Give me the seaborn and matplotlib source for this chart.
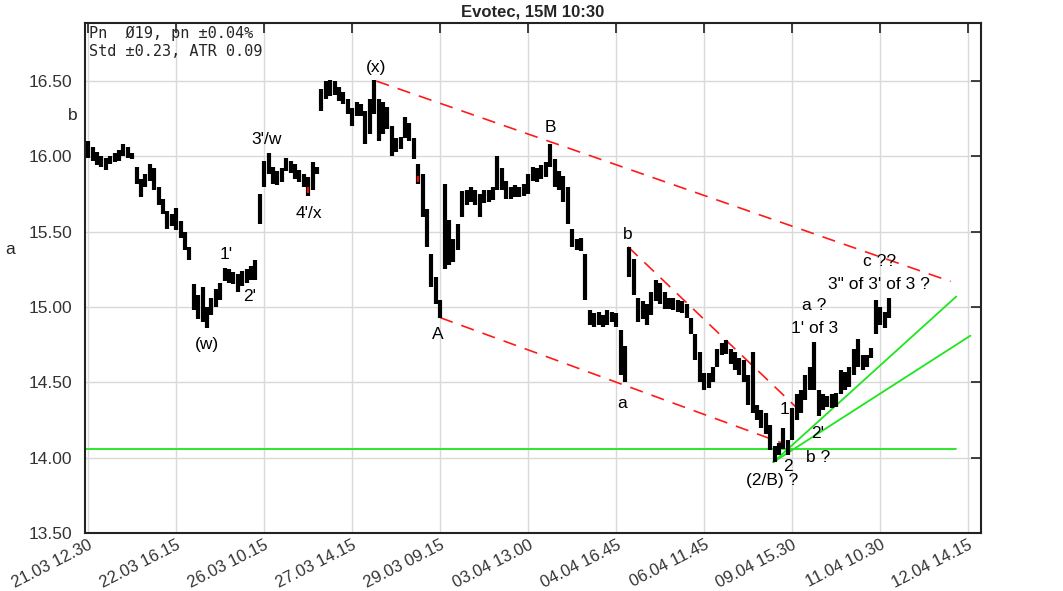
import seaborn as sns
import matplotlib.pyplot as plt
import pandas as pd

# price bars (index based, 15M)
lows = [15.99, 15.97, 15.94, 15.93, 15.91, 15.95, 15.96, 15.97, 16.00, 15.99,
        15.98, 15.82, 15.73, 15.80, 15.84, 15.78, 15.68, 15.62, 15.52, 15.54,
        15.51, 15.46, 15.38, 15.31, 14.98, 14.92, 14.90, 14.86, 14.95, 15.00,
        15.05, 15.17, 15.16, 15.15, 15.10, 15.14, 15.16, 15.18, 15.18, 15.55,
        15.80, 15.88, 15.82, 15.81, 15.83, 15.90, 15.89, 15.85, 15.83, 15.80,
        15.74, 15.78, 15.88, 16.30, 16.38, 16.40, 16.41, 16.37, 16.35, 16.28,
        16.20, 16.27, 16.27, 16.08, 16.15, 16.28, 16.10, 16.15, 16.18, 16.00,
        16.03, 16.05, 16.12, 16.10, 15.98, 15.82, 15.60, 15.40, 15.13, 15.02,
        14.93, 15.25, 15.28, 15.30, 15.38, 15.60, 15.68, 15.70, 15.68, 15.60,
        15.69, 15.70, 15.71, 15.78, 15.78, 15.72, 15.72, 15.73, 15.73, 15.74,
        15.75, 15.84, 15.83, 15.85, 15.86, 15.93, 15.80, 15.78, 15.70, 15.55,
        15.40, 15.38, 15.37, 15.05, 14.88, 14.87, 14.88, 14.87, 14.88, 14.90,
        14.87, 14.55, 14.50, 15.20, 15.08, 14.90, 14.92, 14.88, 14.95, 15.04,
        15.02, 14.99, 14.99, 14.98, 14.97, 14.96, 14.93, 14.82, 14.65, 14.50,
        14.45, 14.46, 14.50, 14.60, 14.68, 14.69, 14.62, 14.58, 14.55, 14.50,
        14.35, 14.30, 14.25, 14.20, 14.16, 14.05, 13.97, 14.02, 14.06, 14.02,
        14.12, 14.25, 14.30, 14.38, 14.45, 14.45, 14.28, 14.32, 14.34, 14.33,
        14.34, 14.42, 14.45, 14.47, 14.55, 14.60, 14.58, 14.60, 14.66, 14.82,
        14.88, 14.86, 14.93]
highs = [16.10, 16.06, 16.03, 16.00, 15.99, 16.00, 16.02, 16.04, 16.08, 16.06,
         16.02, 15.93, 15.85, 15.88, 15.95, 15.92, 15.80, 15.72, 15.64, 15.62,
         15.66, 15.57, 15.50, 15.40, 15.15, 15.08, 15.13, 15.00, 15.06, 15.12,
         15.16, 15.26, 15.25, 15.23, 15.22, 15.24, 15.25, 15.27, 15.31, 15.75,
         15.97, 16.02, 15.93, 15.90, 15.92, 15.99, 15.97, 15.95, 15.91, 15.88,
         15.86, 15.96, 15.93, 16.45, 16.50, 16.51, 16.50, 16.46, 16.43, 16.38,
         16.32, 16.36, 16.35, 16.30, 16.38, 16.51, 16.38, 16.36, 16.33, 16.20,
         16.12, 16.13, 16.26, 16.22, 16.12, 15.95, 15.88, 15.65, 15.35, 15.20,
         15.05, 15.82, 15.58, 15.45, 15.55, 15.77, 15.78, 15.80, 15.78, 15.75,
         15.78, 15.78, 15.80, 16.00, 15.92, 15.84, 15.80, 15.81, 15.80, 15.82,
         15.88, 15.93, 15.92, 15.94, 15.96, 16.08, 15.98, 15.90, 15.87, 15.80,
         15.52, 15.45, 15.46, 15.35, 14.98, 14.96, 14.97, 14.95, 14.98, 14.97,
         14.96, 14.85, 14.74, 15.40, 15.32, 15.06, 15.04, 15.02, 15.10, 15.18,
         15.16, 15.10, 15.06, 15.06, 15.05, 15.04, 15.02, 14.93, 14.82, 14.70,
         14.56, 14.56, 14.60, 14.72, 14.76, 14.78, 14.72, 14.70, 14.66, 14.65,
         14.55, 14.70, 14.35, 14.32, 14.30, 14.22, 14.08, 14.10, 14.20, 14.12,
         14.33, 14.42, 14.45, 14.55, 14.60, 14.77, 14.45, 14.42, 14.41, 14.42,
         14.43, 14.58, 14.57, 14.60, 14.72, 14.79, 14.68, 14.68, 14.73, 15.05,
         15.00, 14.97, 15.06]

red_bars = [50, 75]
red_lo = [15.76, 15.83]
red_hi = [15.80, 15.87]

tick_pos = [0, 20, 40, 60, 80, 100, 120, 140, 160, 180, 200]
tick_labels = ["21.03 12.30", "22.03 16.15", "26.03 10.15", "27.03 14.15",
               "29.03 09.15", "03.04 13.00", "04.04 16.45", "06.04 11.45",
               "09.04 15.30", "11.04 10.30", "12.04 14.15"]
y_ticks = [13.5, 14.0, 14.5, 15.0, 15.5, 16.0, 16.5]

# trend lines (x index, price)
red_lines = [([65.5, 196.0], [16.50, 15.17]),
             ([80.0, 157.5], [14.93, 14.10]),
             ([122.7, 161.1], [15.40, 14.33])]
green_lines = [([-0.7, 197.3], [14.06, 14.06]),
               ([155.7, 197.3], [13.97, 15.07]),
               ([155.7, 200.5], [13.97, 14.81])]

labels = [("(x)", 65.5, 16.59), ("3'/w", 40.5, 16.11), ("4'/x", 50.2, 15.62),
          ("1'", 31.4, 15.35), ("2'", 36.6, 15.07), ("(w)", 27.0, 14.75),
          ("A", 79.5, 14.82), ("B", 105.0, 16.19), ("b", 122.7, 15.48),
          ("a", 121.4, 14.36), ("1", 158.2, 14.32), ("2", 159.1, 13.94),
          ("(2/B) ?", 155.5, 13.85), ("2'", 165.9, 14.16), ("b ?", 165.9, 14.00),
          ("a ?", 165.0, 15.01), ("1' of 3", 165.2, 14.86), ("c ??", 179.8, 15.30),
          ("3\" of 3' of 3 ?", 179.8, 15.15)]

df = pd.DataFrame({"i": range(len(lows)), "low": lows, "high": highs})

sns.set_theme(style="whitegrid")
plt.rcParams['font.family'] = ['Liberation Sans', 'DejaVu Sans']

fig = plt.figure(figsize=(10.63, 5.91), dpi=100)
ax = fig.add_axes([0.080, 0.098, 0.843, 0.863])

ax.vlines(df["i"], df["low"], df["high"], colors="black", linewidth=3.0, zorder=3)
ax.vlines(red_bars, red_lo, red_hi, colors="red", linewidth=1.5, zorder=4)

for xs, ys in red_lines:
    sns.lineplot(x=xs, y=ys, ax=ax, color="#ff1a1a", linewidth=1.2,
                 linestyle=(0, (8, 5.5)), zorder=2)
for xs, ys in green_lines:
    sns.lineplot(x=xs, y=ys, ax=ax, color="#1ee61e", linewidth=1.3, zorder=2)

for txt, x, y in labels:
    ax.text(x, y, txt, ha="center", va="center", fontsize=12.5, color="black", zorder=5)

ax.text(0.004, 0.995, "Pn  \u00d819, pn \u00b10.04%\nStd \u00b10.23, ATR 0.09",
        transform=ax.transAxes, ha="left", va="top", fontsize=11,
        family="DejaVu Sans Mono", linespacing=1.3)
fig.text(73 / 1063, 1 - 116 / 591, "b", ha="center", va="center", fontsize=12.5)
fig.text(10 / 1063, 1 - 249 / 591, "a", ha="center", va="center", fontsize=12.5)

ax.set_xlim(-0.7, 202.95)
ax.set_ylim(13.5, 16.885)
ax.set_xticks(tick_pos)
ax.set_xticklabels(tick_labels, rotation=27, ha="right", rotation_mode="anchor")
ax.set_yticks(y_ticks)
ax.set_yticklabels(["%.2f" % v for v in y_ticks])
ax.tick_params(direction="in", length=7, width=1.2, color="#222222",
               top=True, right=True, labelsize=12.5, labelcolor="#333333")
ax.tick_params(axis="y", pad=9)
ax.tick_params(axis="x", pad=3, labelsize=12)
ax.grid(True, color="#d9d9d9", linewidth=1)
for s in ax.spines.values():
    s.set_color("#222222")
    s.set_linewidth(1.5)
ax.set_xlabel("")
ax.set_ylabel("")
ax.set_title("Evotec, 15M 10:30", fontsize=12, fontweight="bold", pad=5)

fig.savefig("out.png", dpi=100)
